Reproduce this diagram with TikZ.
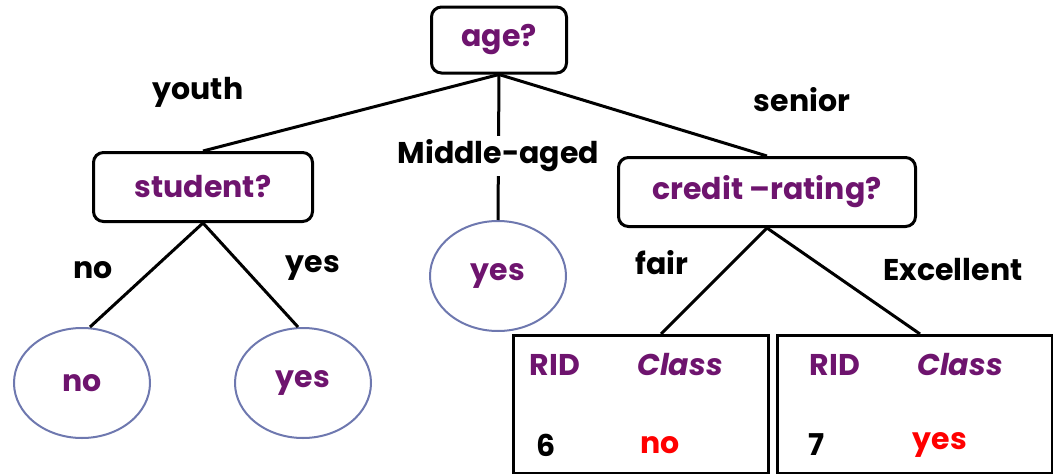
\documentclass[tikz,border=0pt]{standalone}
\usepackage{fontspec}
\setmainfont{Poppins}
\usetikzlibrary{shapes.geometric}
\usetikzlibrary{positioning}
\definecolor{testpurple}{RGB}{110,20,110}
\definecolor{leafblue}{RGB}{110,120,175}
\definecolor{classred}{RGB}{255,0,0}
\newcommand{\treefont}{\fontsize{30}{34}\selectfont\bfseries}
\tikzset{
	test/.style={
		draw, line width=3pt,
		rounded corners=10pt,
		text=testpurple,
		font=\treefont},
	leaf/.style={
		ellipse, draw=leafblue,
		line width=2pt,
		minimum width=136pt,
		minimum height=110pt,
		text=testpurple,
		font=\treefont},
	partition/.style={
		draw, line width=3pt,
		minimum width=255pt,
		minimum height=138pt,
		anchor=north west},
	branch/.style={
		draw, line width=3pt},
	blabel/.style={
		font=\treefont},
	header/.style={
		font=\treefont, text=testpurple},
	outcome/.style={
		font=\treefont, text=classred}
}

\begin{document}
\begin{tikzpicture}[x=1pt,y=-1pt]
	\useasboundingbox (0,0) rectangle (1053,474);
	% tests
	\node[test, minimum width=135pt, minimum height=66pt] (age) at (499,40) {age?};
	\node[test, minimum width=219pt, minimum height=69pt] (student) at (203,187) {student?};
	\node[test, minimum width=297pt, minimum height=69pt] (credit) at (767,192) {credit –rating?};
	% leaves
	\node[leaf] (no) at (82,383) {no};
	\node[leaf] (yes) at (303,383) {yes};
	\node[leaf] (mid) at (498,276) {yes};
	% partitions
	\node[partition] (fairbox) at (512,334) {};
	\node[partition, minimum width=275pt] (excbox) at (776,334) {};
	\node[header] (rid1) at (555,365) {RID};
	\node[header] (cls1) at (680,365) {\itshape Class};
	\node[blabel] (r1) at (546,445) {6};
	\node[outcome] (c1) at (660,445) {no};
	\node[header] (rid2) at (835,365) {RID};
	\node[header] (cls2) at (960,365) {\itshape Class};
	\node[blabel] (r2) at (817,445) {7};
	\node[outcome] (c2) at (940,445) {yes};
	% branches
	\draw[branch] (age.south) -- (student.north);
	\draw[branch] (age.south) -- (credit.north);
	\draw[branch] (age.south) -- node[pos=0.56, fill=white, blabel, inner ysep=4pt] {Middle-aged} (mid.north);
	\draw[branch] (student.south) -- ([xshift=8pt]no.north);
	\draw[branch] (student.south) -- ([xshift=-5pt]yes.north);
	\draw[branch] (credit.south) -- ([xshift=20pt]fairbox.north);
	\draw[branch] (credit.south) -- ([xshift=5pt]excbox.north);
	% branch labels
	\node[blabel] (youth) at (198,92) {youth};
	\node[blabel] (senior) at (802,100) {senior};
	\node[blabel] (sno) at (93,270) {no};
	\node[blabel] (syes) at (313,268) {yes};
	\node[blabel] (fair) at (662,263) {fair};
	\node[blabel] (exc) at (953,270) {Excellent};
\end{tikzpicture}
\end{document}
